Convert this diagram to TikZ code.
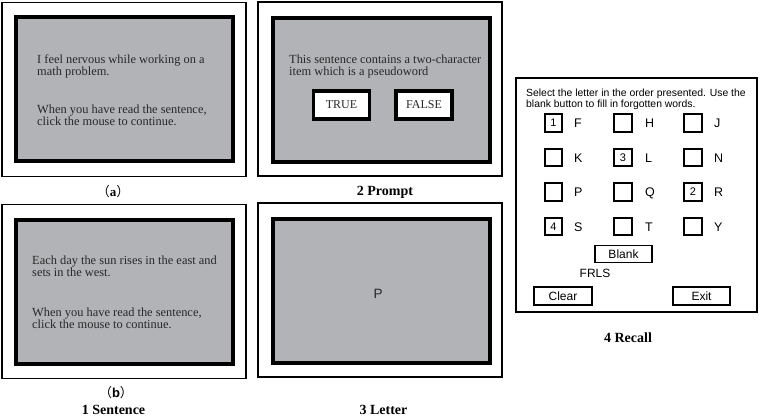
\documentclass[tikz,border=0pt]{standalone}
\usepackage{fontspec}
\setmainfont{Liberation Serif}
\setsansfont{Liberation Sans}
\newfontfamily\cjkfont{Noto Sans CJK SC}
\usepackage{tikz}
\definecolor{screengrey}{RGB}{177,179,183}
\definecolor{inkgrey}{RGB}{40,40,40}

\begin{document}
\begin{tikzpicture}[x=1pt,y=-1pt,
		frame_style/.style={draw=black,line width=1.5pt,fill=white,minimum width=244pt,minimum height=174pt,inner sep=0pt},
		screen_style/.style={draw=black,line width=4pt,fill=screengrey,minimum width=217pt,minimum height=144pt,inner sep=0pt},
		text_style/.style={anchor=north west,inner sep=0pt,align=left,text=inkgrey,font=\fontsize{12.4}{12}\selectfont},
		answer_style/.style={draw=black,line width=3.5pt,fill=white,minimum width=56pt,minimum height=28pt,inner sep=0pt,text=inkgrey,font=\fontsize{12}{14}\selectfont},
		caption_style/.style={anchor=base,inner sep=0pt,font=\fontsize{14}{16}\selectfont\bfseries},
		panel_style/.style={draw=black,line width=2pt,fill=white,minimum width=241pt,minimum height=234pt,inner sep=0pt},
		check_style/.style={draw=black,line width=1.6pt,minimum size=17.5pt,inner sep=0pt,font=\sffamily\fontsize{11}{12}\selectfont},
		letter_style/.style={anchor=west,inner sep=0pt,text height=9pt,text depth=0pt,font=\sffamily\fontsize{12.5}{14}\selectfont},
		button_style/.style={draw=black,line width=1.6pt,minimum width=57.5pt,minimum height=18pt,inner sep=0pt,font=\sffamily\fontsize{12}{14}\selectfont}]

		\useasboundingbox (0,0) rectangle (761,418);

		% screen a
		\node[frame_style] (fa) at (124,89.5) {};
		\node[screen_style] (sa) at (124.5,89) {};
		\node[text_style] (ta1) at (37,54.5) {I feel nervous while working on a\\math problem.};
		\node[text_style] (ta2) at (37,104.5) {When you have read the sentence,\\click the mouse to continue.};
		\node[caption_style,font=\fontsize{13}{15}\selectfont] (capa) at (113,196) {{\cjkfont （}\textbf{a}{\cjkfont ）}};

		% screen 2
		\node[frame_style] (fp) at (380,89) {};
		\node[screen_style] (sp) at (381,89.5) {};
		\node[text_style] (tp) at (289,54.5) {This sentence contains a two-character\\item which is a pseudoword};
		\node[answer_style] (true) at (341.5,105) {TRUE};
		\node[answer_style] (false) at (424,105) {FALSE};
		\node[caption_style] (capp) at (385,195) {2 Prompt};

		% screen b
		\node[frame_style] (fb) at (124,291.5) {};
		\node[screen_style] (sb) at (124.5,292) {};
		\node[text_style] (tb1) at (32,255.5) {Each day the sun rises in the east and\\sets in the west.};
		\node[text_style] (tb2) at (32,307.5) {When you have read the sentence,\\click the mouse to continue.};
		\node[caption_style,font=\fontsize{13}{15}\selectfont] (capb) at (116,397) {{\cjkfont （}\textbf{\sffamily b}{\cjkfont ）}};
		\node[caption_style] (caps) at (113.5,414.5) {1 Sentence};

		% screen 3
		\node[frame_style] (fl) at (380,290) {};
		\node[screen_style] (sl) at (381,290.5) {};
		\node[font=\sffamily\fontsize{13.5}{15}\selectfont,text=inkgrey] (let) at (378,294) {P};
		\node[caption_style] (capl) at (383.5,414.5) {3 Letter};

		% recall screen
		\node[panel_style] (rec) at (636.5,195) {};
		\node[text_style,font=\sffamily\fontsize{10.4}{10.5}\selectfont,text=black] (inst) at (526,89) {Select the letter in the order presented. Use the\\blank button to fill in forgotten words.};

		\node[check_style] (c1) at (553.5,123) {1};
		\node[check_style] (c2) at (623,123) {};
		\node[check_style] (c3) at (693,123) {};
		\node[check_style] (c4) at (553.5,157.5) {};
		\node[check_style] (c5) at (623,157.5) {3};
		\node[check_style] (c6) at (693,157.5) {};
		\node[check_style] (c7) at (553.5,192) {};
		\node[check_style] (c8) at (623,192) {};
		\node[check_style] (c9) at (693,192) {2};
		\node[check_style] (c10) at (553.5,226.5) {4};
		\node[check_style] (c11) at (623,226.5) {};
		\node[check_style] (c12) at (693,226.5) {};

		\node[letter_style] (l1) at (574,123) {F};
		\node[letter_style] (l2) at (645,123) {H};
		\node[letter_style] (l3) at (714,123) {J};
		\node[letter_style] (l4) at (574,157.5) {K};
		\node[letter_style] (l5) at (645,157.5) {L};
		\node[letter_style] (l6) at (714,157.5) {N};
		\node[letter_style] (l7) at (574,192) {P};
		\node[letter_style] (l8) at (645,192) {Q};
		\node[letter_style] (l9) at (714,192) {R};
		\node[letter_style] (l10) at (574,226.5) {S};
		\node[letter_style] (l11) at (645,226.5) {T};
		\node[letter_style] (l12) at (714,226.5) {Y};

		\node[button_style,minimum height=17pt] (blank) at (623.5,254) {Blank};
		\node[font=\sffamily\fontsize{12}{14}\selectfont] (seq) at (595,273.5) {FRLS};
		\node[button_style] (clear) at (563,296) {Clear};
		\node[button_style] (exit) at (701.5,296) {Exit};
		\node[caption_style] (capr) at (628,342) {4 Recall};

		\end{tikzpicture}
\end{document}
